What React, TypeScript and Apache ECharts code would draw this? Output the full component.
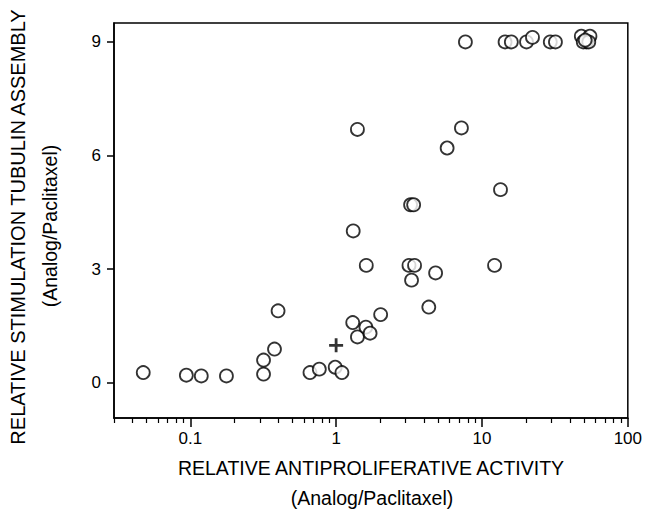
import React, { useEffect, useRef } from "react";
import * as echarts from "echarts";

// Relative antiproliferative activity (x) and relative tubulin assembly stimulation (y)
const analogX = [
  0.0476, 0.094, 0.119, 0.177, 0.318, 0.318, 0.378, 0.40, 0.662, 0.767, 0.986, 1.096,
  1.31, 1.30, 1.40, 1.60, 1.71, 1.61, 2.02, 1.40,
  3.24, 3.40, 3.16, 3.45, 3.29, 4.81, 4.32, 12.2, 5.77, 7.23, 13.4,
  7.7, 14.4, 15.9, 20.2, 22.2, 29.4, 31.9, 48.0, 55.0, 52.0, 49.5, 54.0, 51.0,
];
const analogY = [
  0.27, 0.2, 0.18, 0.18, 0.23, 0.6, 0.89, 1.9, 0.27, 0.36, 0.41, 0.27,
  4.01, 1.59, 1.21, 1.47, 1.31, 3.1, 1.8, 6.69,
  4.7, 4.7, 3.1, 3.1, 2.71, 2.9, 2.0, 3.1, 6.2, 6.73, 5.1,
  9.0, 9.0, 9.0, 9.0, 9.12, 9.0, 9.0, 9.15, 9.15, 9.0, 9.0, 9.0, 9.05,
];
// Paclitaxel reference point
const refX = [1.0];
const refY = [0.99];

const xMajorTicks = [0.1, 1, 10, 100];
const xMinorTicks = [
  0.03, 0.04, 0.05, 0.06, 0.07, 0.08, 0.09,
  0.2, 0.3, 0.4, 0.5, 0.6, 0.7, 0.8, 0.9,
  2, 3, 4, 5, 6, 7, 8, 9,
  20, 30, 40, 50, 60, 70, 80, 90,
];
const yTicks = [0, 3, 6, 9];

const xMin = 0.03;
const xMax = 100;
const yMin = -0.93;
const yMax = 9.5;

const xTitle = "RELATIVE ANTIPROLIFERATIVE ACTIVITY";
const yTitle = "RELATIVE STIMULATION TUBULIN ASSEMBLY";
const unitTitle = "(Analog/Paclitaxel)";

const FONT = "Liberation Sans, Arial, Helvetica, sans-serif";

export default function App() {
  const ref = useRef<HTMLDivElement>(null);
  useEffect(() => {
    if (!ref.current) return;
    const chart = echarts.init(ref.current, undefined, { renderer: "svg" });
    const lg = (v: number) => Math.log10(v);
    const fmt = (v: number) => {
      const p = Math.round(v);
      const val = Math.pow(10, p);
      return p < 0 ? val.toFixed(-p) : String(val);
    };
    chart.setOption({
      animation: false,
      textStyle: { fontFamily: FONT },
      grid: {
        left: 114,
        right: 16,
        top: 23,
        bottom: 92,
        show: true,
        borderColor: "#000",
        borderWidth: 1.5,
        backgroundColor: "transparent",
      },
      xAxis: [
        {
          type: "value",
          min: lg(xMin),
          max: lg(xMax),
          position: "bottom",
          axisLine: { show: true, onZero: false, lineStyle: { color: "#000", width: 1.5 } },
          axisTick: {
            show: true,
            inside: false,
            length: 9,
            lineStyle: { color: "#000", width: 1.5 },
            customValues: xMajorTicks.map(lg),
          },
          axisLabel: {
            show: true,
            margin: 12,
            color: "#000",
            fontSize: 17,
            fontFamily: FONT,
            customValues: xMajorTicks.map(lg),
            formatter: (v: number) => fmt(v),
          },
          splitLine: { show: false },
        },
        {
          type: "value",
          min: lg(xMin),
          max: lg(xMax),
          position: "bottom",
          axisLine: { show: false, onZero: false },
          axisTick: {
            show: true,
            inside: false,
            length: 5,
            lineStyle: { color: "#000", width: 1.2 },
            customValues: xMinorTicks.map(lg),
          },
          axisLabel: { show: false },
          splitLine: { show: false },
        },
      ],
      yAxis: {
        type: "value",
        min: yMin,
        max: yMax,
        axisLine: { show: true, onZero: false, lineStyle: { color: "#000", width: 1.5 } },
        axisTick: {
          show: true,
          inside: false,
          length: 7,
          lineStyle: { color: "#000", width: 1.5 },
          customValues: yTicks,
        },
        axisLabel: {
          show: true,
          margin: 13,
          color: "#000",
          fontSize: 17,
          fontFamily: FONT,
          customValues: yTicks,
        },
        splitLine: { show: false },
      },
      series: [
        {
          type: "scatter",
          xAxisIndex: 0,
          data: analogX.map((x, i) => [lg(x), analogY[i]]),
          symbol: "circle",
          symbolSize: 13,
          itemStyle: { color: "#fff", borderColor: "#000", borderWidth: 1.8 },
          z: 3,
        },
        {
          type: "scatter",
          xAxisIndex: 0,
          data: refX.map((x, i) => [lg(x), refY[i]]),
          symbol: "path://M0.4,0H0.6V0.4H1V0.6H0.6V1H0.4V0.6H0V0.4H0.4Z",
          symbolSize: 14,
          itemStyle: { color: "#000" },
          z: 4,
        },
      ],
      graphic: [
        {
          type: "text",
          x: 371,
          y: 468,
          style: { text: xTitle, font: `19.5px ${FONT}`, fill: "#000", align: "center", verticalAlign: "middle" },
        },
        {
          type: "text",
          x: 372,
          y: 498,
          style: { text: unitTitle, font: `19.5px ${FONT}`, fill: "#000", align: "center", verticalAlign: "middle" },
        },
        {
          type: "text",
          x: 18,
          y: 227,
          rotation: Math.PI / 2,
          style: { text: yTitle, font: `20px ${FONT}`, fill: "#000", align: "center", verticalAlign: "middle" },
        },
        {
          type: "text",
          x: 50,
          y: 226,
          rotation: Math.PI / 2,
          style: { text: unitTitle, font: `19.5px ${FONT}`, fill: "#000", align: "center", verticalAlign: "middle" },
        },
      ],
    });
    return () => chart.dispose();
  }, []);
  return (
    <div
      ref={ref}
      style={{ position: "fixed", left: 0, top: 0, width: 645, height: 510, background: "#fff" }}
    />
  );
}
